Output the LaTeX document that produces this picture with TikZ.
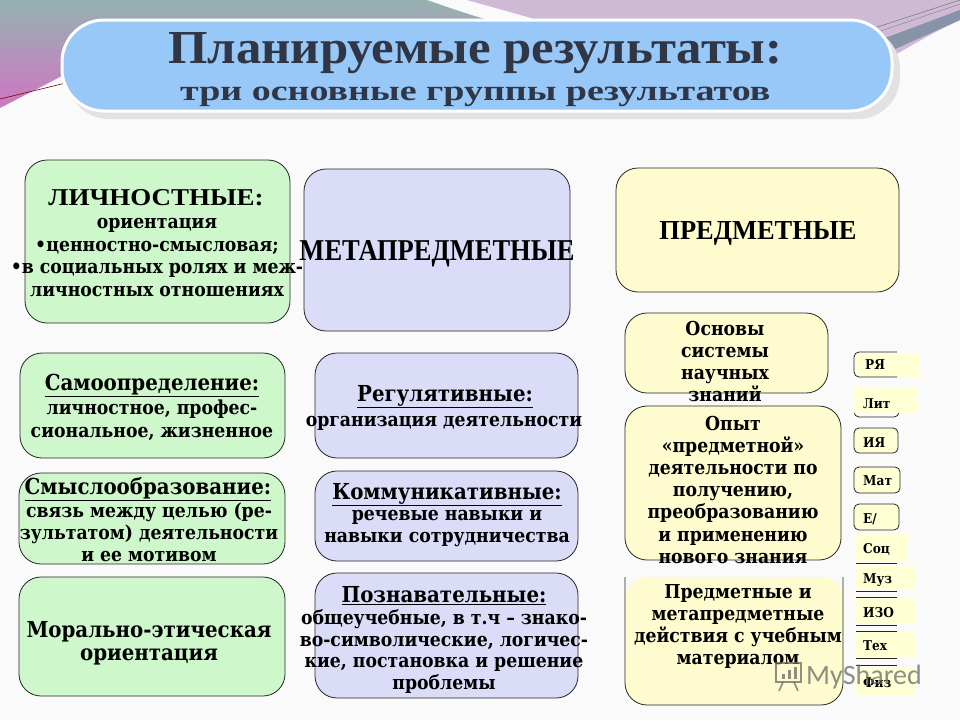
\documentclass[tikz,border=0pt]{standalone}
\usepackage{fontspec}
\usepackage{graphicx}
\setmainfont{Liberation Serif}
\newfontfamily\bk{DejaVu Serif Condensed}
\newfontfamily\wm{Carlito}
\definecolor{bgc}{RGB}{250,250,250}
\definecolor{tealc}{RGB}{150,178,176}
\definecolor{pinkc}{RGB}{205,118,196}
\definecolor{lilac}{RGB}{206,186,212}
\definecolor{bandc}{RGB}{135,148,168}
\definecolor{bannerc}{RGB}{152,200,248}
\definecolor{shadowc}{RGB}{226,226,226}
\definecolor{titlec}{RGB}{48,54,70}
\definecolor{cg}{RGB}{207,247,204}
\definecolor{cv}{RGB}{218,220,248}
\definecolor{cy}{RGB}{254,252,206}
\definecolor{cl}{RGB}{255,255,212}
\definecolor{wmc}{RGB}{105,105,105}
\tikzset{
  bx/.style={draw=black!85, line width=0.8pt, rounded corners=22},
  gbox/.style={bx, fill=cg},
  vbox/.style={bx, fill=cv},
  ybox/.style={bx, fill=cy},
  lbox/.style={draw=black!85, line width=0.8pt, rounded corners=5, fill=cl},
  lline/.style={draw=black!85, line width=0.8pt},
  hd/.style={font=\bk\bfseries\fontsize{22}{24}\selectfont, anchor=base, inner sep=0},
  bd/.style={font=\bk\bfseries\fontsize{19.2}{21}\selectfont, anchor=base, inner sep=0},
  rt/.style={font=\bk\bfseries\fontsize{19.2}{21}\selectfont, anchor=base, inner sep=0},
  lab/.style={font=\bk\bfseries\fontsize{13.5}{14}\selectfont, anchor=base west, inner sep=0},
  big/.style={anchor=base, inner sep=0, font=\bfseries},
}
\begin{document}
\begin{tikzpicture}[x=1pt,y=-1pt]
\useasboundingbox (0,0) rectangle (960,720);
\fill[bgc] (0,0) rectangle (960,720);
% background swooshes
\shade[top color=tealc, bottom color=pinkc] (0,0) -- (427,0) .. controls (450,8) and (470,15) .. (495,22) -- (300,45) -- (62,76) -- (0,108) -- cycle;
\draw[red!50!black, line width=0.6pt] (0,99) -- (70,82);
\fill[lilac] (467,0) -- (960,0) -- (960,20) .. controls (935,32) .. (893,56) -- (545,22) .. controls (510,12) .. (467,0) -- cycle;
\fill[bandc] (885,38) -- (960,10) -- (960,20) -- (893,50) -- cycle;
\draw[black!60, line width=0.4pt] (868,30) -- (960,0);
\draw[black!50, line width=0.4pt] (872,34) -- (960,4);
% banner
\fill[shadowc, rounded corners=42] (67,27) rectangle (900,119);
\draw[white, line width=3pt, fill=bannerc, rounded corners=42] (62,20) rectangle (892,111);
\node[anchor=base west, inner sep=0, text=titlec] (title) at (168,63) {\resizebox{614pt}{31pt}{\bfseries Планируемые результаты:}};
\node[anchor=base west, inner sep=0, text=titlec] (subtitle) at (180,100) {\resizebox{590pt}{13.5pt}{\bfseries три основные группы результатов}};

% ---------- left column ----------
\path[gbox] (25,160) rectangle (290,323);
\node[big] (lichH) at (156,205) {\resizebox{215pt}{16pt}{ЛИЧНОСТНЫЕ:}};
\foreach \t [count=\i from 0] in {ориентация, {•ценностно-смысловая;}, {•в социальных ролях и меж-}, {личностных отношениях}}
  \node[bd] (lich\i) at (157,228.5+22.5*\i) {\t};

\path[gbox] (20,353) rectangle (285,458);
\node[hd] (samH) at (152,390) {\underline{Самоопределение:}};
\node[bd] (sam0) at (152,414) {личностное, профес-};
\node[bd] (sam1) at (152,437) {сиональное, жизненное};

\path[gbox] (19,473) rectangle (285,564);
\node[hd] (smyH) at (148,494) {\underline{Смыслообразование:}};
\foreach \t [count=\i from 0] in {{связь между целью (ре-}, {зультатом) деятельности}, {и ее мотивом}}
  \node[bd] (smy\i) at (149,517+22*\i) {\t};

\path[gbox] (19,577) rectangle (285,696);
\node[bd, font=\bk\bfseries\fontsize{22}{24}\selectfont] (mor0) at (149,637) {Морально-этическая};
\node[bd, font=\bk\bfseries\fontsize{22}{24}\selectfont] (mor1) at (149,660) {ориентация};

% ---------- middle column ----------
\path[vbox] (304,169) rectangle (570,331);
\node[big] (meta) at (437,260) {\resizebox{275pt}{20pt}{МЕТАПРЕДМЕТНЫЕ}};

\path[vbox] (315,353) rectangle (578,458);
\node[hd] (regH) at (445,401) {\underline{Регулятивные:}};
\node[bd] (reg0) at (444,426) {организация деятельности};

\path[vbox] (315,471) rectangle (578,561);
\node[hd] (komH) at (447,499) {\underline{Коммуникативные:}};
\node[bd] (kom0) at (447,520) {речевые навыки и};
\node[bd] (kom1) at (447,542) {навыки сотрудничества};

\path[vbox] (315,573) rectangle (578,698);
\node[hd] (pozH) at (444,602) {\underline{Познавательные:}};
\foreach \t [count=\i from 0] in {{общеучебные, в т.ч – знако-}, {во-символические, логичес-}, {кие, постановка и решение}, проблемы}
  \node[bd] (poz\i) at (444,624.5+21.5*\i) {\t};

% ---------- right column ----------
\path[ybox] (616,168) rectangle (899,292);
\node[big] (pred) at (758,239) {\resizebox{197pt}{18pt}{ПРЕДМЕТНЫЕ}};

\path[ybox] (625,313) rectangle (828,393);
\foreach \t [count=\i from 0] in {Основы, системы, научных, знаний}
  \node[rt] (osn\i) at (725,335+22*\i) {\t};

\path[ybox] (625,406) rectangle (841,560);
\foreach \t [count=\i from 0] in {Опыт, «предметной», {деятельности по}, {получению,}, преобразованию, {и применению}, {нового знания}}
  \node[rt] (opy\i) at (733,430+22.2*\i) {\t};

\fill[cy, rounded corners=22] (625,577) rectangle (843,705);
\draw[bx] (625,577) -- (625,705) -- (843,705) -- (843,577);
\foreach \t [count=\i from 0] in {{Предметные и}, метапредметные, {действия с учебным}, материалом}
  \node[rt] (pm\i) at (738,598+22.3*\i) {\t};

% ---------- subject labels ----------
\fill[cl] (855,353) rectangle (920,378);
\draw[lline, rounded corners=5] (897,352) -| (854,377) -- (897,377);
\node[lab] (ry) at (865,369) {РЯ};

\draw[lline, rounded corners=5] (854,392) rectangle (899,417);
\fill[cl] (853,388) rectangle (918,413);
\node[lab] (lit) at (863,408) {Лит};

\path[lbox] (854,428) rectangle (898,453);
\node[lab] (iya) at (863,447) {ИЯ};
\path[lbox] (854,467) rectangle (900,493);
\node[lab] (mat) at (863,485) {Мат};
\path[lbox] (854,504) rectangle (899,530);
\node[lab] (en) at (863,523) {Е/};

\fill[cl] (855,534) rectangle (908,561);
\fill[cl] (855,565) rectangle (915,590);
\fill[cl] (855,598) rectangle (915,623);
\fill[cl] (855,632) rectangle (915,657);
\fill[cl] (855,667) rectangle (915,695);
\foreach \yy in {563,591,597,625,631,658,665}
  \draw[lline] (856,\yy) -- (897,\yy);
\node[lab] (soc) at (863,553) {Соц};
\node[lab] (muz) at (863,583) {Муз};
\node[lab] (izo) at (863,617) {ИЗО};
\node[lab] (teh) at (863,650) {Тех};
\node[lab] (fiz) at (863,687) {Физ};

% ---------- watermark ----------
\begin{scope}[opacity=0.75, draw=wmc, fill=wmc]
  \draw[line width=1.6pt] (776,663) rectangle (801,682);
  \fill (782,674) rectangle (785,679);
  \fill (788,670) rectangle (791,679);
  \fill (794,667) rectangle (797,679);
  \draw[line width=1.6pt] (783,682) -- (779,691);
  \draw[line width=1.6pt] (794,682) -- (798,691);
\end{scope}
\node[anchor=base west, inner sep=0, text=wmc, opacity=0.75, font=\wm\fontsize{28}{30}\selectfont] (wmark) at (806,684) {MyShared};
\end{tikzpicture}
\end{document}
